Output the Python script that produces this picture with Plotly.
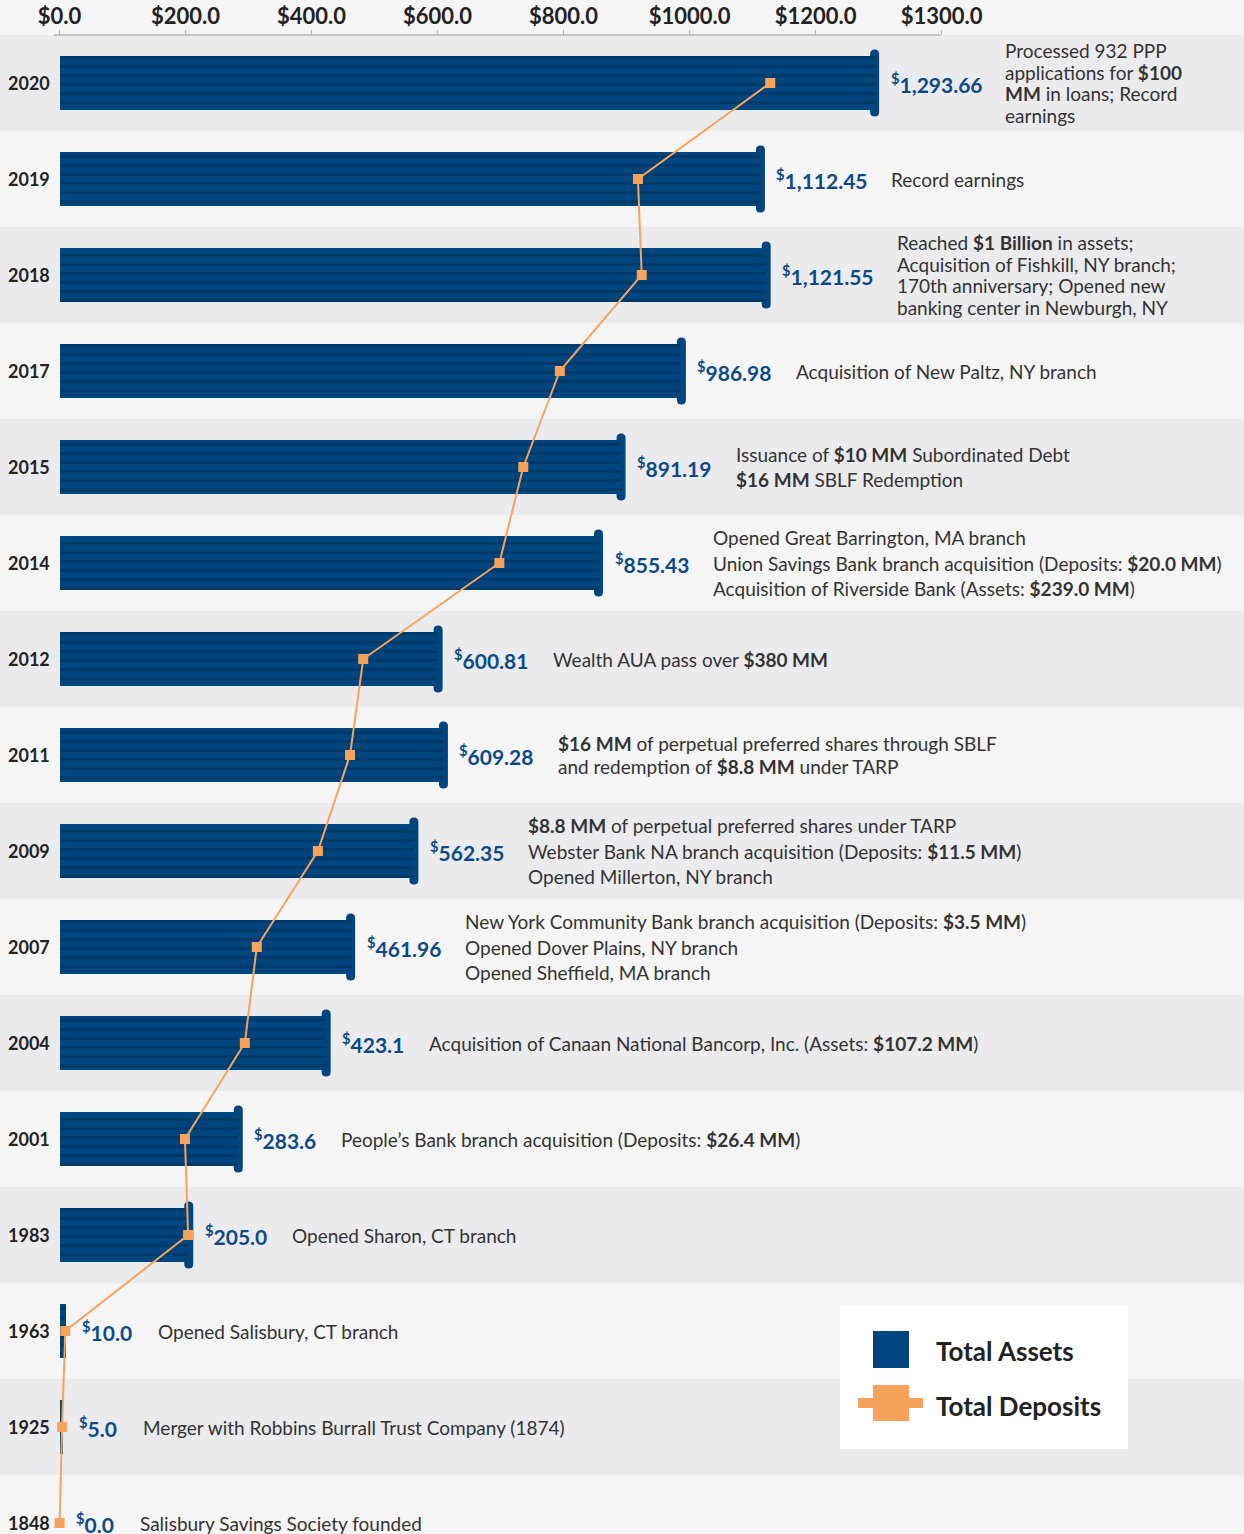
import plotly.graph_objects as go

# ---------------- data ----------------
years = ["2020", "2019", "2018", "2017", "2015", "2014", "2012", "2011",
         "2009", "2007", "2004", "2001", "1983", "1963", "1925", "1848"]
total_assets = [1293.66, 1112.45, 1121.55, 986.98, 891.19, 855.43, 600.81, 609.28,
                562.35, 461.96, 423.1, 283.6, 205.0, 10.0, 5.0, 0.0]
asset_labels = ["1,293.66", "1,112.45", "1,121.55", "986.98", "891.19", "855.43",
                "600.81", "609.28", "562.35", "461.96", "423.1", "283.6", "205.0",
                "10.0", "5.0", "0.0"]
total_deposits = [1128, 918, 924, 794, 736, 698, 482, 461,
                  410, 313, 294, 199, 204, 9, 4, 0]
notes = [
    "Processed 932 PPP<br>applications for <b>$100</b><br><b>MM</b> in loans; Record<br>earnings",
    "Record earnings",
    "Reached <b>$1 Billion</b> in assets;<br>Acquisition of Fishkill, NY branch;<br>170th anniversary; Opened new<br>banking center in Newburgh, NY",
    "Acquisition of New Paltz, NY branch",
    "Issuance of <b>$10 MM</b> Subordinated Debt<br><b>$16 MM</b> SBLF Redemption",
    "Opened Great Barrington, MA branch<br>Union Savings Bank branch acquisition (Deposits: <b>$20.0 MM</b>)<br>Acquisition of Riverside Bank (Assets: <b>$239.0 MM</b>)",
    "Wealth AUA pass over <b>$380 MM</b>",
    "<b>$16 MM</b> of perpetual preferred shares through SBLF<br>and redemption of <b>$8.8 MM</b> under TARP",
    "<b>$8.8 MM</b> of perpetual preferred shares under TARP<br>Webster Bank NA branch acquisition (Deposits: <b>$11.5 MM</b>)<br>Opened Millerton, NY branch",
    "New York Community Bank branch acquisition (Deposits: <b>$3.5 MM</b>)<br>Opened Dover Plains, NY branch<br>Opened Sheffield, MA branch",
    "Acquisition of Canaan National Bancorp, Inc. (Assets: <b>$107.2 MM</b>)",
    "People’s Bank branch acquisition (Deposits: <b>$26.4 MM</b>)",
    "Opened Sharon, CT branch",
    "Opened Salisbury, CT branch",
    "Merger with Robbins Burrall Trust Company (1874)",
    "Salisbury Savings Society founded",
]
tick_vals = [0, 200, 400, 600, 800, 1000, 1200, 1400]
tick_text = ["$0.0", "$200.0", "$400.0", "$600.0", "$800.0", "$1000.0", "$1200.0", "$1300.0"]

# ---------------- layout constants ----------------
W, H, TOP = 1244, 1534, 35
PX0, PPU = 59.6, 0.63          # pixel of value 0, pixels per unit
ROW_PX = 96
n = len(years)
idx = list(range(n))
FONT = "Lato"
BLUE = "#00457e"
ORANGE = "#f7a35c"

x_range = [-PX0 / PPU, (W - PX0) / PPU]
y_range = [-0.5 + (H - TOP) / ROW_PX, -0.5]


def px_x(p):
    return p / W


def px_y(p):
    return 1 - (p - TOP) / (H - TOP)


fig = go.Figure()

fig.add_trace(go.Bar(
    x=total_assets, y=idx, orientation="h", width=0.57, base=0,
    marker=dict(color=BLUE, line=dict(width=0),
                pattern=dict(shape="-", fgcolor="#003866", bgcolor=BLUE,
                             size=9, solidity=0.25, fillmode="replace")),
    name="Total Assets", showlegend=False, hoverinfo="x+y",
))

fig.add_trace(go.Scatter(
    x=total_deposits, y=idx, mode="lines+markers",
    line=dict(color=ORANGE, width=2),
    marker=dict(symbol="square", size=10, color=ORANGE),
    name="Total Deposits", showlegend=False,
))

shapes = []
# alternating row bands
for i in idx:
    shapes.append(dict(type="rect", xref="paper", yref="y", x0=0, x1=1,
                       y0=i - 0.5, y1=i + 0.5, layer="below", line=dict(width=0),
                       fillcolor="#ebebee" if i % 2 == 0 else "#f5f5f5"))

# rounded end caps on bars (drawn beneath the traces so the deposits line stays on top)
hw = 4.5 / PPU
hh = 0.35
ry = 4.5 / ROW_PX
for i, v in enumerate(total_assets):
    if v < 50:
        continue
    x0, x1, xc = v - hw, v + hw, v
    y0, y1 = i - hh, i + hh
    path = (f"M {x0},{y0 + ry} Q {x0},{y0} {xc},{y0} Q {x1},{y0} {x1},{y0 + ry} "
            f"L {x1},{y1 - ry} Q {x1},{y1} {xc},{y1} Q {x0},{y1} {x0},{y1 - ry} Z")
    shapes.append(dict(type="path", xref="x", yref="y", path=path,
                       fillcolor=BLUE, line=dict(width=0), layer="below"))

# top axis line
shapes.append(dict(type="line", xref="x", yref="paper", x0=-9, x1=1400, y0=1, y1=1,
                   line=dict(color="#b5b5b5", width=1.5)))

# legend box
shapes.append(dict(type="rect", xref="paper", yref="paper",
                   x0=px_x(840), x1=px_x(1128), y0=px_y(1449), y1=px_y(1305),
                   fillcolor="white", line=dict(width=0)))
shapes.append(dict(type="rect", xref="paper", yref="paper",
                   x0=px_x(873), x1=px_x(909), y0=px_y(1368), y1=px_y(1331),
                   fillcolor=BLUE, line=dict(width=0)))
shapes.append(dict(type="rect", xref="paper", yref="paper",
                   x0=px_x(858), x1=px_x(923), y0=px_y(1408), y1=px_y(1398),
                   fillcolor=ORANGE, line=dict(width=0)))
shapes.append(dict(type="rect", xref="paper", yref="paper",
                   x0=px_x(873), x1=px_x(909), y0=px_y(1421), y1=px_y(1385),
                   fillcolor=ORANGE, line=dict(width=0)))

annotations = []


def label_width(s):
    w = 7.0
    for ch in s:
        w += 5.0 if ch in ",." else 11.3
    return w


NOTE_SIZE = 19
for i in idx:
    # year
    annotations.append(dict(xref="paper", yref="y", x=px_x(29), y=i, text=years[i],
                            showarrow=False, xanchor="center", yanchor="middle",
                            font=dict(family=FONT, size=18, color="#222222", weight=700)))
    # value label
    v = total_assets[i]
    annotations.append(dict(xref="x", yref="y", x=v, y=i,
                            text=f"<sup>$</sup>{asset_labels[i]}",
                            showarrow=False, xanchor="left", yanchor="middle",
                            xshift=14, yshift=0,
                            font=dict(family=FONT, size=21, color="#0c4a87", weight=700)))
    # note, one annotation per line for controlled line spacing
    lines = notes[i].split("<br>")
    spacing = 21.5 if len(lines) >= 4 else (22.5 if i == 7 else 25.5)
    xs = 14 + label_width(asset_labels[i]) + 30
    for k, line in enumerate(lines):
        off = (k - (len(lines) - 1) / 2) * spacing
        annotations.append(dict(xref="x", yref="y", x=v, y=i, text=line,
                                showarrow=False, xanchor="left", yanchor="middle",
                                align="left", xshift=xs, yshift=-off,
                                font=dict(family=FONT, size=NOTE_SIZE, color="#333333")))

annotations.append(dict(xref="paper", yref="paper", x=px_x(934), y=px_y(1351),
                        text="Total Assets", showarrow=False, xanchor="left",
                        yanchor="middle",
                        font=dict(family=FONT, size=26, color="#222222", weight=700)))
annotations.append(dict(xref="paper", yref="paper", x=px_x(934), y=px_y(1406),
                        text="Total Deposits", showarrow=False, xanchor="left",
                        yanchor="middle",
                        font=dict(family=FONT, size=26, color="#222222", weight=700)))

fig.update_layout(
    width=W, height=H,
    margin=dict(l=0, r=0, t=TOP, b=0, pad=0),
    paper_bgcolor="#f5f5f5", plot_bgcolor="rgba(0,0,0,0)",
    barmode="overlay", bargap=0,
    showlegend=False,
    shapes=shapes, annotations=annotations,
    xaxis=dict(side="top", range=x_range, tickvals=tick_vals, ticktext=tick_text,
               ticks="outside", ticklen=4, tickcolor="#b5b5b5", tickwidth=1,
               ticklabelstandoff=-3,
               showgrid=False, zeroline=False, showline=False, fixedrange=True,
               tickfont=dict(family=FONT, size=22, color="#222222", weight=700)),
    yaxis=dict(range=y_range, visible=False, fixedrange=True),
    font=dict(family=FONT),
)

fig.write_html("out.html")
